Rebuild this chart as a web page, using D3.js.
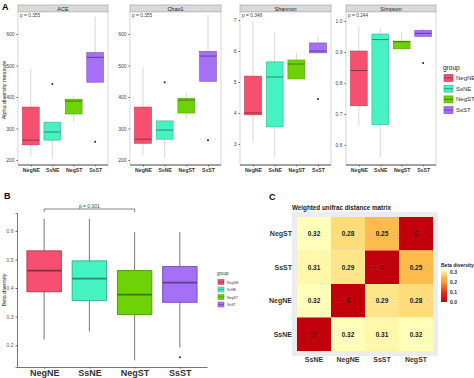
<!DOCTYPE html>
<html>
<head>
<meta charset="utf-8">
<script src="https://cdn.jsdelivr.net/npm/d3@7"></script>
<style>
  body { margin: 0; background: #fff; }
  svg text { font-family: "Liberation Sans", Arial, sans-serif; }
</style>
</head>
<body>
<div id="chart"></div>
<script>
// groups and colours
var groups = ["NegNE", "SsNE", "NegST", "SsST"];
var groupColors = ["#f74f70", "#46f2c2", "#6dd306", "#a56ff6"];

// panel A: alpha diversity, box stats = [lowWhisker, q1, median, q3, highWhisker]
var metrics = ["ACE", "Chao1", "Shannon", "Simpson"];
var metricP = ["p = 0.355", "p = 0.355", "p = 0.348", "p = 0.244"];
var aceStats = [[210, 248, 263, 368, 491], [203, 263, 289, 320, 323], [320, 346, 387, 393, 405], [447, 447, 526, 541, 656]];
var aceOutliers = [[], [441], [], [258]];
var chaoStats = [[215, 253, 266, 368, 494], [206, 266, 295, 324, 327], [330, 349, 390, 396, 412], [450, 450, 530, 545, 662]];
var chaoOutliers = [[], [447], [], [263]];
var shannonStats = [[3.06, 3.94, 4.0, 5.19, 6.94], [2.58, 3.55, 5.16, 5.65, 6.61], [5.1, 5.1, 5.58, 5.71, 5.94], [5.94, 5.94, 6.0, 6.26, 6.5]];
var shannonOutliers = [[], [], [], [4.45]];
var simpsonStats = [[0.66, 0.726, 0.84, 0.903, 0.984], [0.56, 0.665, 0.94, 0.958, 0.977], [0.91, 0.91, 0.933, 0.935, 0.965], [0.95, 0.95, 0.96, 0.97, 0.975]];
var simpsonOutliers = [[], [], [], [0.864]];
var metricTicks = [[200, 300, 400, 500, 600], [200, 300, 400, 500, 600], [3, 4, 5, 6, 7], [0.6, 0.7, 0.8, 0.9, 1.0]];
var metricDomains = [[184, 670], [184, 670], [2.32, 7.26], [0.535, 1.029]];

// panel B: beta diversity
var betaStats = [[0.22, 0.387, 0.461, 0.530, 0.642], [0.248, 0.356, 0.433, 0.495, 0.642], [0.147, 0.307, 0.377, 0.461, 0.596], [0.192, 0.35, 0.419, 0.475, 0.596]];
var betaOutliers = [[], [], [], [0.158]];
var betaTicks = [0.2, 0.3, 0.4, 0.5, 0.6];

// panel C: weighted unifrac distance matrix
var matRows = ["NegST", "SsST", "NegNE", "SsNE"];
var matCols = ["SsNE", "NegNE", "SsST", "NegST"];
var matValues = [
  [0.32, 0.28, 0.25, 0],
  [0.31, 0.29, 0, 0.25],
  [0.32, 0, 0.29, 0.28],
  [0, 0.32, 0.31, 0.32]
];
var legendTicks = [0.0, 0.1, 0.2, 0.3];

var svg = d3.select("#chart").append("svg")
  .attr("width", 474)
  .attr("height", 378);

var color = d3.scaleOrdinal().domain(groups).range(groupColors);

function drawBoxes(g, x, y, stats, outliers, bw, whiskerColor, lw) {
  groups.forEach(function(grp, i) {
    var s = stats[i];
    var cx = x(grp);
    var c = color(grp);
    var dark = d3.color(c).darker(1.6);
    g.append("line")
      .attr("x1", cx).attr("x2", cx)
      .attr("y1", y(s[0])).attr("y2", y(s[4]))
      .attr("stroke", whiskerColor).attr("stroke-width", lw);
    g.append("rect")
      .attr("x", cx - bw / 2).attr("width", bw)
      .attr("y", y(s[3])).attr("height", Math.max(0.5, y(s[1]) - y(s[3])))
      .attr("fill", c)
      .attr("stroke", d3.color(c).darker(0.8)).attr("stroke-width", lw);
    g.append("line")
      .attr("x1", cx - bw / 2).attr("x2", cx + bw / 2)
      .attr("y1", y(s[2])).attr("y2", y(s[2]))
      .attr("stroke", dark).attr("stroke-width", lw * 1.6);
    outliers[i].forEach(function(v) {
      g.append("circle")
        .attr("cx", cx).attr("cy", y(v)).attr("r", 1)
        .attr("fill", "#222");
    });
  });
}

// ---------- panel A ----------
svg.append("text").attr("x", 2).attr("y", 10)
  .attr("font-size", 9).attr("font-weight", "bold").text("A");

var facetX = [[18, 108], [130, 221], [240, 331], [346, 436]];
var facetTop = 12, facetBottom = 165;
var allStats = [aceStats, chaoStats, shannonStats, simpsonStats];
var allOut = [aceOutliers, chaoOutliers, shannonOutliers, simpsonOutliers];

metrics.forEach(function(m, k) {
  var x0 = facetX[k][0], x1 = facetX[k][1];
  var g = svg.append("g");
  var x = d3.scalePoint().domain(groups).range([x0, x1]).padding(0.6);
  var y = d3.scaleLinear().domain(metricDomains[k]).range([facetBottom, facetTop]);

  // strip
  g.append("rect").attr("x", x0).attr("y", 5).attr("width", x1 - x0).attr("height", facetTop - 5)
    .attr("fill", "#d9d9d9").attr("stroke", "#999").attr("stroke-width", 0.6);
  g.append("text").attr("x", (x0 + x1) / 2).attr("y", 10.5)
    .attr("text-anchor", "middle").attr("font-size", 5.5).attr("fill", "#222").text(m);
  // panel
  g.append("rect").attr("x", x0).attr("y", facetTop).attr("width", x1 - x0).attr("height", facetBottom - facetTop)
    .attr("fill", "#fff").attr("stroke", "#bbb").attr("stroke-width", 0.6);

  drawBoxes(g, x, y, allStats[k], allOut[k], x.step() * 0.78, "#bdbdbd", 0.6);

  g.append("line").attr("x1", x0).attr("x2", x1).attr("y1", facetBottom).attr("y2", facetBottom)
    .attr("stroke", "#333").attr("stroke-width", 0.8);

  g.append("text").attr("x", x0 + 2).attr("y", facetTop + 5)
    .attr("font-size", 4.8).attr("fill", "#444")
    .text(metricP[k]);

  var ya = g.append("g").attr("transform", "translate(" + x0 + ",0)")
    .call(d3.axisLeft(y).tickValues(metricTicks[k]).tickSize(1.5).tickPadding(2)
      .tickFormat(k === 3 ? d3.format(".1f") : d3.format("d")));
  ya.select(".domain").remove();
  ya.selectAll("line").attr("stroke", "#666");
  ya.selectAll("text").attr("font-size", 5).attr("fill", "#444").attr("font-family", "Liberation Sans, Arial, sans-serif");

  var xa = g.append("g").attr("transform", "translate(0," + facetBottom + ")")
    .call(d3.axisBottom(x).tickSize(1.5).tickPadding(2));
  xa.select(".domain").remove();
  xa.selectAll("line").attr("stroke", "#666");
  xa.selectAll("text").attr("font-size", 5.2).attr("font-weight", "bold").attr("fill", "#333")
    .attr("font-family", "Liberation Sans, Arial, sans-serif");
});

svg.append("text")
  .attr("transform", "translate(6,90) rotate(-90)")
  .attr("text-anchor", "middle").attr("font-size", 5.5).attr("fill", "#222")
  .text("Alpha diversity measure");

// legend A
var legA = svg.append("g");
legA.append("text").attr("x", 443).attr("y", 70).attr("font-size", 6.5).attr("fill", "#222").text("group");
groups.forEach(function(grp, i) {
  var yy = 78 + i * 10.7;
  legA.append("rect").attr("x", 444).attr("y", yy - 3.5).attr("width", 9).attr("height", 7)
    .attr("fill", color(grp)).attr("stroke", d3.color(color(grp)).darker(0.8)).attr("stroke-width", 0.6);
  legA.append("line").attr("x1", 444).attr("x2", 453).attr("y1", yy).attr("y2", yy)
    .attr("stroke", d3.color(color(grp)).darker(1.6)).attr("stroke-width", 0.8);
  legA.append("text").attr("x", 456).attr("y", yy + 2).attr("font-size", 6).attr("fill", "#333").text(grp);
});

// ---------- panel B ----------
svg.append("text").attr("x", 4).attr("y", 199)
  .attr("font-size", 9).attr("font-weight", "bold").text("B");

var bLeft = 17, bRight = 207, bTop = 213, bBottom = 367;
var xb = d3.scalePoint().domain(groups).range([bLeft, bRight]).padding(0.6);
var yb = d3.scaleLinear().domain([0.1235, 0.6626]).range([bBottom, bTop]);
var gb = svg.append("g");

drawBoxes(gb, xb, yb, betaStats, betaOutliers, xb.step() * 0.76, "#777", 1);

var yaxB = gb.append("g").attr("transform", "translate(" + bLeft + ",0)")
  .call(d3.axisLeft(yb).tickValues(betaTicks).tickSize(1.5).tickPadding(2).tickFormat(d3.format(".1f")));
yaxB.select(".domain").attr("stroke", "#555").attr("stroke-width", 0.8);
yaxB.selectAll("line").attr("stroke", "#666");
yaxB.selectAll("text").attr("font-size", 5).attr("fill", "#555").attr("font-family", "Liberation Sans, Arial, sans-serif");

var xaxB = gb.append("g").attr("transform", "translate(0," + bBottom + ")")
  .call(d3.axisBottom(xb).tickSize(1.5).tickPadding(1).tickSizeOuter(0));
xaxB.select(".domain").attr("stroke", "#555").attr("stroke-width", 0.8);
xaxB.selectAll("line").attr("stroke", "#555");
xaxB.selectAll("text").attr("font-size", 9).attr("font-weight", "bold").attr("fill", "#333")
  .attr("font-family", "Liberation Sans, Arial, sans-serif");

svg.append("text")
  .attr("transform", "translate(6,290) rotate(-90)")
  .attr("text-anchor", "middle").attr("font-size", 5.5).attr("fill", "#222")
  .text("Beta diversity");

// significance bracket
var brY = 209;
gb.append("path")
  .attr("d", "M" + xb("NegNE") + "," + (brY + 3) + "V" + brY + "H" + xb("NegST") + "V" + (brY + 3))
  .attr("fill", "none").attr("stroke", "#666").attr("stroke-width", 0.8);
gb.append("text").attr("x", (xb("NegNE") + xb("NegST")) / 2).attr("y", brY - 1.5)
  .attr("text-anchor", "middle").attr("font-size", 5).attr("fill", "#444").text("p = 0.001");

// legend B
var legB = svg.append("g");
legB.append("text").attr("x", 217).attr("y", 275).attr("font-size", 4.5).attr("fill", "#333").text("group");
groups.forEach(function(grp, i) {
  var yy = 282 + i * 7.5;
  legB.append("rect").attr("x", 218).attr("y", yy - 2.5).attr("width", 6).attr("height", 5)
    .attr("fill", color(grp)).attr("stroke", d3.color(color(grp)).darker(0.8)).attr("stroke-width", 0.5);
  legB.append("line").attr("x1", 218).attr("x2", 224).attr("y1", yy).attr("y2", yy)
    .attr("stroke", d3.color(color(grp)).darker(1.6)).attr("stroke-width", 0.6);
  legB.append("text").attr("x", 227).attr("y", yy + 1.5).attr("font-size", 3.6).attr("fill", "#444").text(grp);
});

// ---------- panel C ----------
svg.append("text").attr("x", 269).attr("y", 200)
  .attr("font-size", 9).attr("font-weight", "bold").text("C");
svg.append("text").attr("x", 292).attr("y", 210)
  .attr("font-size", 6.3).attr("font-weight", "bold").attr("fill", "#222")
  .text("Weighted unifrac distance matrix");

var hx = d3.scaleBand().domain(matCols).range([297, 433]);
var hy = d3.scaleBand().domain(matRows).range([217, 351]);
var heat = d3.scaleLinear()
  .domain([0, 0.1, 0.2, 0.25, 0.3, 0.32])
  .range(["#c0000b", "#ee2f1c", "#fd9a36", "#fdbb4c", "#fff09a", "#ffffba"]);

var gc = svg.append("g");
gc.append("rect").attr("x", 292).attr("y", 212).attr("width", 146).attr("height", 144).attr("fill", "#ececec");

matRows.forEach(function(r, i) {
  matCols.forEach(function(c, j) {
    var v = matValues[i][j];
    gc.append("rect")
      .attr("x", hx(c)).attr("y", hy(r))
      .attr("width", hx.bandwidth()).attr("height", hy.bandwidth())
      .attr("fill", heat(v));
    gc.append("text")
      .attr("x", hx(c) + hx.bandwidth() / 2).attr("y", hy(r) + hy.bandwidth() / 2 + 2.3)
      .attr("text-anchor", "middle").attr("font-size", 6.5).attr("font-weight", "bold").attr("fill", "#222")
      .text(v === 0 ? "0" : d3.format(".2f")(v));
  });
});

matRows.forEach(function(r) {
  gc.append("text").attr("x", 292).attr("y", hy(r) + hy.bandwidth() / 2 + 2.5)
    .attr("text-anchor", "end").attr("font-size", 7).attr("font-weight", "bold").attr("fill", "#333").text(r);
});
matCols.forEach(function(c) {
  gc.append("text").attr("x", hx(c) + hx.bandwidth() / 2).attr("y", 362)
    .attr("text-anchor", "middle").attr("font-size", 7).attr("font-weight", "bold").attr("fill", "#333").text(c);
});

// colour legend C
var defs = svg.append("defs");
var grad = defs.append("linearGradient").attr("id", "betaGrad")
  .attr("x1", "0%").attr("x2", "0%").attr("y1", "100%").attr("y2", "0%");
d3.range(0, 1.0001, 0.1).forEach(function(t) {
  grad.append("stop").attr("offset", (t * 100) + "%").attr("stop-color", heat(t * 0.32));
});
var ly = d3.scaleLinear().domain([0, 0.32]).range([302, 270]);
svg.append("text").attr("x", 441).attr("y", 267).attr("font-size", 5).attr("font-weight", "bold").attr("fill", "#222")
  .text("Beta diversity");
svg.append("rect").attr("x", 441).attr("y", ly(0.32)).attr("width", 6).attr("height", ly(0) - ly(0.32))
  .attr("fill", "url(#betaGrad)");
legendTicks.forEach(function(t) {
  svg.append("text").attr("x", 450).attr("y", ly(t) + 1.8).attr("font-size", 5).attr("font-weight", "bold")
    .attr("fill", "#333").text(d3.format(".1f")(t));
});
</script>
</body>
</html>
